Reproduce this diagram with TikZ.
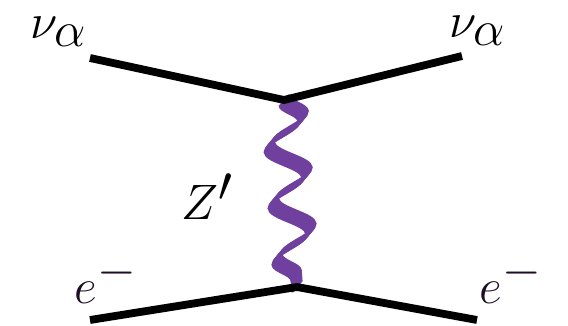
\documentclass[tikz,border=0pt]{standalone}
\usetikzlibrary{decorations.pathmorphing}
\definecolor{zprime}{RGB}{112,64,158}
\definecolor{elec}{RGB}{30,12,34}
\begin{document}
\begin{tikzpicture}[x=0.5pt,y=-0.5pt,
  fermion/.style={line width=3.9pt, black},
  boson/.style={zprime, line width=1.2pt, decorate,
    decoration={snake, segment length=28.2pt, amplitude=9pt}},
  lbl/.style={font=\fontsize{34}{40}\selectfont, inner sep=0pt}]
\useasboundingbox (0,0) rectangle (568,326);
\coordinate (i1) at (90,58);
\coordinate (o1) at (462,56);
\coordinate (v1) at (284,100);
\coordinate (v2) at (297,287);
\coordinate (i2) at (90,320);
\coordinate (o2) at (477,320);
\foreach \t in {-2.2,-1.8,-1.4,-1,-0.6,-0.2,0.2,0.6,1,1.4,1.8,2.2}
  \draw[boson, transform canvas={shift={({-\t*1pt},{-1.2*\t*1pt})}}] (v1) -- (v2);
\draw[fermion] (i1) -- (v1) -- (o1);
\draw[fermion] (i2) -- (v2) -- (o2);
\node[lbl] (nuL) at (59,32) {$\nu_\alpha$};
\node[lbl] (nuR) at (478,31) {$\nu_\alpha$};
\node[lbl] (zp) at (207,197) {$Z'$};
\node[lbl, text=elec] (eL) at (106,280) {$e^-$};
\node[lbl, text=elec] (eR) at (511,280) {$e^-$};
\end{tikzpicture}
\end{document}
